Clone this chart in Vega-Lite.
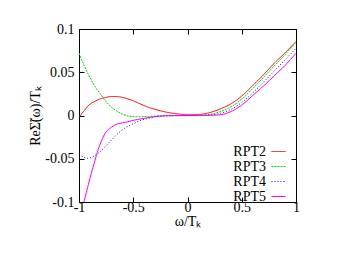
{
  "$schema": "https://vega.github.io/schema/vega-lite/v6.json",
  "autosize": "none",
  "width": 217,
  "height": 173,
  "padding": {"left": 79, "top": 29, "right": 67, "bottom": 54},
  "background": "white",
  "config": {
    "view": {"stroke": "black", "strokeWidth": 1},
    "font": "Liberation Serif",
    "axis": {
      "grid": false, "domain": false, "tickColor": "black", "tickSize": -5, "tickWidth": 1,
      "labelFont": "Liberation Serif", "labelFontSize": 14, "labelColor": "black",
      "titleFont": "Liberation Serif", "titleFontSize": 14, "titleFontWeight": "normal", "titleColor": "black"
    },
    "legend": {"labelFont": "Liberation Serif", "labelFontSize": 14, "labelColor": "black"}
  },
  "data": {"values": [
    {"s":"RPT2","x":-1,"y":-0.002},{"s":"RPT2","x":-0.95,"y":0.006},{"s":"RPT2","x":-0.9,"y":0.013},{"s":"RPT2","x":-0.85,"y":0.0165},{"s":"RPT2","x":-0.8,"y":0.0195},{"s":"RPT2","x":-0.75,"y":0.021},{"s":"RPT2","x":-0.7,"y":0.022},{"s":"RPT2","x":-0.65,"y":0.0218},{"s":"RPT2","x":-0.6,"y":0.021},{"s":"RPT2","x":-0.55,"y":0.0192},{"s":"RPT2","x":-0.5,"y":0.017},{"s":"RPT2","x":-0.45,"y":0.0142},{"s":"RPT2","x":-0.4,"y":0.0115},{"s":"RPT2","x":-0.35,"y":0.009},{"s":"RPT2","x":-0.3,"y":0.0072},{"s":"RPT2","x":-0.25,"y":0.0055},{"s":"RPT2","x":-0.2,"y":0.004},{"s":"RPT2","x":-0.1,"y":0.002},{"s":"RPT2","x":0,"y":0.001},{"s":"RPT2","x":0.1,"y":0.0012},{"s":"RPT2","x":0.2,"y":0.0032},{"s":"RPT2","x":0.3,"y":0.0075},{"s":"RPT2","x":0.4,"y":0.0135},{"s":"RPT2","x":0.5,"y":0.0225},{"s":"RPT2","x":0.6,"y":0.0345},{"s":"RPT2","x":0.7,"y":0.047},{"s":"RPT2","x":0.8,"y":0.0605},{"s":"RPT2","x":0.9,"y":0.0725},{"s":"RPT2","x":1,"y":0.0855},

    {"s":"RPT3","x":-1,"y":0.072},{"s":"RPT3","x":-0.95,"y":0.057},{"s":"RPT3","x":-0.9,"y":0.044},{"s":"RPT3","x":-0.85,"y":0.033},{"s":"RPT3","x":-0.8,"y":0.0245},{"s":"RPT3","x":-0.75,"y":0.016},{"s":"RPT3","x":-0.7,"y":0.0095},{"s":"RPT3","x":-0.65,"y":0.005},{"s":"RPT3","x":-0.6,"y":0.0015},{"s":"RPT3","x":-0.55,"y":-0.0005},{"s":"RPT3","x":-0.5,"y":-0.0014},{"s":"RPT3","x":-0.45,"y":-0.0015},{"s":"RPT3","x":-0.4,"y":-0.0012},{"s":"RPT3","x":-0.3,"y":-0.0007},{"s":"RPT3","x":-0.2,"y":-0.0003},{"s":"RPT3","x":0,"y":0},{"s":"RPT3","x":0.1,"y":0.0002},{"s":"RPT3","x":0.2,"y":0.0012},{"s":"RPT3","x":0.3,"y":0.0044},{"s":"RPT3","x":0.4,"y":0.0100},{"s":"RPT3","x":0.5,"y":0.019},{"s":"RPT3","x":0.6,"y":0.031},{"s":"RPT3","x":0.7,"y":0.044},{"s":"RPT3","x":0.8,"y":0.0575},{"s":"RPT3","x":0.9,"y":0.0705},{"s":"RPT3","x":1,"y":0.0845},

    {"s":"RPT4","x":-1,"y":-0.045},{"s":"RPT4","x":-0.95,"y":-0.0485},{"s":"RPT4","x":-0.92,"y":-0.0495},{"s":"RPT4","x":-0.88,"y":-0.0482},{"s":"RPT4","x":-0.825,"y":-0.0437},{"s":"RPT4","x":-0.75,"y":-0.035},{"s":"RPT4","x":-0.7,"y":-0.0283},{"s":"RPT4","x":-0.65,"y":-0.0218},{"s":"RPT4","x":-0.58,"y":-0.0148},{"s":"RPT4","x":-0.5,"y":-0.0095},{"s":"RPT4","x":-0.43,"y":-0.0055},{"s":"RPT4","x":-0.35,"y":-0.003},{"s":"RPT4","x":-0.27,"y":-0.0008},{"s":"RPT4","x":-0.2,"y":-0.0002},{"s":"RPT4","x":0,"y":0},{"s":"RPT4","x":0.1,"y":0.0001},{"s":"RPT4","x":0.2,"y":0.0005},{"s":"RPT4","x":0.3,"y":0.0025},{"s":"RPT4","x":0.4,"y":0.007},{"s":"RPT4","x":0.5,"y":0.015},{"s":"RPT4","x":0.6,"y":0.026},{"s":"RPT4","x":0.7,"y":0.0385},{"s":"RPT4","x":0.8,"y":0.0515},{"s":"RPT4","x":0.9,"y":0.0645},{"s":"RPT4","x":1,"y":0.0777},

    {"s":"RPT5","x":-0.955,"y":-0.1},{"s":"RPT5","x":-0.92,"y":-0.083},{"s":"RPT5","x":-0.887,"y":-0.067},{"s":"RPT5","x":-0.855,"y":-0.053},{"s":"RPT5","x":-0.825,"y":-0.040},{"s":"RPT5","x":-0.795,"y":-0.030},{"s":"RPT5","x":-0.763,"y":-0.0215},{"s":"RPT5","x":-0.72,"y":-0.0155},{"s":"RPT5","x":-0.67,"y":-0.011},{"s":"RPT5","x":-0.6,"y":-0.0085},{"s":"RPT5","x":-0.55,"y":-0.0072},{"s":"RPT5","x":-0.5,"y":-0.0056},{"s":"RPT5","x":-0.4,"y":-0.0033},{"s":"RPT5","x":-0.3,"y":-0.0013},{"s":"RPT5","x":-0.2,"y":-0.0004},{"s":"RPT5","x":0,"y":0},{"s":"RPT5","x":0.1,"y":0},{"s":"RPT5","x":0.2,"y":0.0002},{"s":"RPT5","x":0.3,"y":0.0008},{"s":"RPT5","x":0.4,"y":0.0045},{"s":"RPT5","x":0.5,"y":0.012},{"s":"RPT5","x":0.6,"y":0.023},{"s":"RPT5","x":0.7,"y":0.034},{"s":"RPT5","x":0.8,"y":0.046},{"s":"RPT5","x":0.9,"y":0.058},{"s":"RPT5","x":1,"y":0.072}
  ]},
  "layer": [
    {
      "mark": {"type": "line", "strokeWidth": 1, "clip": true, "interpolate": "monotone"},
      "encoding": {
        "x": {"field": "x", "type": "quantitative", "scale": {"domain": [-1, 1], "nice": false, "zero": false},
              "axis": {"orient": "bottom", "values": [-1, -0.5, 0, 0.5, 1], "labelExpr": "datum.value + ''", "title": "ω/Tₖ", "labelPadding": 3, "titlePadding": 0, "labelFlush": false}},
        "y": {"field": "y", "type": "quantitative", "scale": {"domain": [-0.1, 0.1], "nice": false, "zero": false},
              "axis": {"orient": "left", "values": [-0.1, -0.05, 0, 0.05, 0.1], "labelExpr": "datum.value + ''", "title": "ReΣ̃(ω)/Tₖ", "labelPadding": 10, "titlePadding": 2, "labelFlush": false}},
        "color": {"field": "s", "type": "nominal", "title": null,
                  "scale": {"domain": ["RPT2","RPT3","RPT4","RPT5"], "range": ["#ff0000","#00e000","#0000ff","#ff00ff"]},
                  "legend": {"orient": "none", "legendX": 192, "legendY": 115, "labelAlign": "right", "labelOffset": -20,
                             "symbolType": "stroke", "symbolSize": 196, "symbolStrokeWidth": 1, "rowPadding": 0, "labelLimit": 0}},
        "strokeDash": {"field": "s", "type": "nominal", "title": null,
                  "scale": {"domain": ["RPT2","RPT3","RPT4","RPT5"], "range": [[1,0],[2,1],[1,2],[6,0]]}}
      }
    },
    {
      "mark": {"type": "line", "opacity": 0},
      "encoding": {
        "x": {"field": "x", "type": "quantitative", "axis": {"orient": "top", "values": [-1, -0.5, 0, 0.5, 1], "labels": false, "title": null}},
        "y": {"field": "y", "type": "quantitative", "axis": {"orient": "right", "values": [-0.1, -0.05, 0, 0.05, 0.1], "labels": false, "title": null}},
        "detail": {"field": "s"}
      }
    }
  ]
}
